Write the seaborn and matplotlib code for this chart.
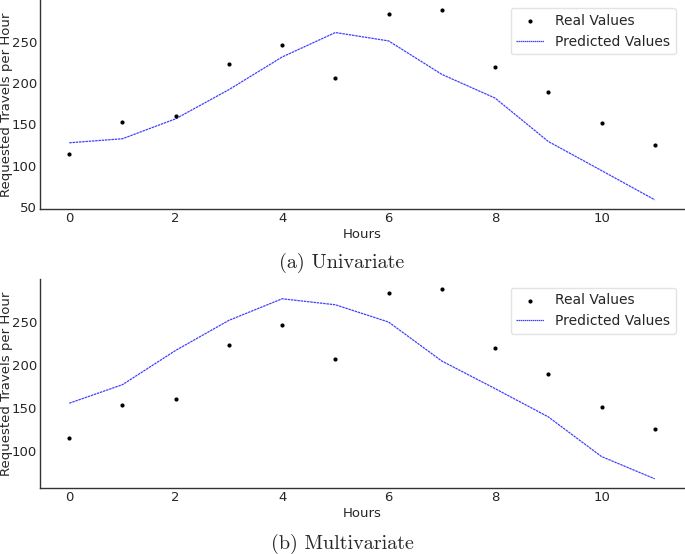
import numpy as np
import pandas as pd
import matplotlib
matplotlib.use("Agg")
import matplotlib.pyplot as plt
import seaborn as sns

hours = list(range(12))
real_values = [114.5, 153.2, 160.0, 223.4, 246.4, 206.5, 283.4, 288.7, 219.8, 189.5, 151.5, 125.4]
pred_univariate = [127.8, 132.7, 156.8, 192.0, 231.4, 260.9, 250.8, 210.4, 181.8, 129.4, 94.3, 59.0]
pred_multivariate = [155.5, 177.1, 217.0, 252.0, 277.1, 270.1, 250.0, 204.6, 172.5, 139.6, 93.4, 67.5]
captions = ["(a) Univariate", "(b) Multivariate"]
yticks_top = [50, 100, 150, 200, 250]
yticks_bottom = [100, 150, 200, 250]
xticks = [0, 2, 4, 6, 8, 10]

sns.set_style("white")
plt.rcParams['font.family'] = ['DejaVu Sans']

W, H = 685, 554
fig = plt.figure(figsize=(W / 100, H / 100), dpi=100)

panels = [
    (pred_univariate, yticks_top, 0.0, 209.3, captions[0], 263),
    (pred_multivariate, yticks_bottom, 279.3, 488.3, captions[1], 544),
]

for pred, yt, ytop, ybot, cap, capy in panels:
    ax = fig.add_axes([40 / W, (H - ybot) / H, 644 / W, (ybot - ytop) / H])
    df = pd.DataFrame({"Hours": hours, "real": real_values, "pred": pred})
    sns.scatterplot(data=df, x="Hours", y="real", ax=ax, color="black", s=9,
                    linewidth=0, label="Real Values", zorder=3)
    sns.lineplot(data=df, x="Hours", y="pred", ax=ax, color="blue", linewidth=0.9,
                 alpha=0.75, label="Predicted Values")
    ax.lines[-1].set_dashes([2, 0.6])
    ax.margins(x=0.05, y=0.05)
    ax.set_xticks(xticks)
    ax.set_yticks(yt)
    ax.set_xlabel("Hours", fontsize=9.5, labelpad=2)
    ax.set_ylabel("Requested Travels per Hour", fontsize=9.5, va="center")
    ax.yaxis.set_label_coords((7 - 40) / 644, 0.5)
    ax.tick_params(axis="both", labelsize=9.5, pad=2, length=0)
    sns.despine(ax=ax)
    for s in ["left", "bottom"]:
        ax.spines[s].set_color("#333333")
        ax.spines[s].set_linewidth(1.0)
    leg = ax.legend(loc="upper right", fontsize=10, frameon=True, handlelength=2.0,
                    borderaxespad=0.6)
    leg.get_frame().set_edgecolor("#dddddd")
    if leg.get_lines():
        leg.get_lines()[0].set_dashes([1.2, 0.4])
    fig.text(342 / W, 1 - capy / H, cap, ha="center", va="center",
             family="cmr10", fontsize=14.5)

fig.savefig("out.png", dpi=100)
